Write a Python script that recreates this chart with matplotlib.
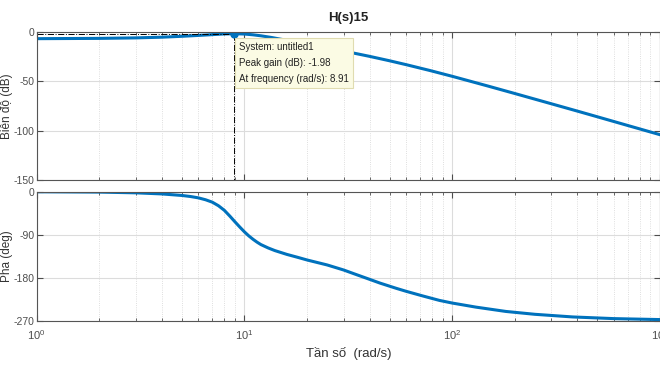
import numpy as np
import matplotlib
matplotlib.use('Agg')
import matplotlib.pyplot as plt
from matplotlib.ticker import LogLocator, NullFormatter

plt.rcParams['font.family'] = ['Liberation Sans', 'DejaVu Sans']
plt.rcParams['mathtext.default'] = 'regular'
plt.rcParams['axes.unicode_minus'] = False

# du lieu doc tu hinh
tan_so_mag = [1, 2, 3, 4, 5, 6, 7, 8, 8.91, 10, 11, 12, 13.5, 15, 17.5, 20, 23, 26, 30, 40,
              50, 60, 78, 100, 150, 200, 300, 400, 500, 700, 1000]
bien_do = [-7.0, -6.7, -6.2, -5.5, -4.6, -3.7, -2.9, -2.2, -1.98, -2.3, -3.1, -4.1, -5.8,
           -7.6, -10.2, -12.6, -15.0, -17.0, -19.5, -24.9, -29.4, -33.3, -39.2, -45.1,
           -55.2, -62.5, -72.9, -80.3, -86.1, -94.9, -104.2]

tan_so_pha = [1, 2, 3, 4, 5, 5.5, 6, 6.5, 7, 7.5, 8, 8.5, 9, 9.5, 10, 10.5, 11, 11.5, 12,
              13, 14, 16, 18, 20, 25, 30, 35, 40, 45, 53.8, 60, 72.3, 86.8, 100, 130, 181,
              250, 380, 600, 1000]
pha = [-0.3, -1, -2.5, -4.8, -8, -10.2, -13, -17, -22, -29.5, -39, -51, -63, -74, -84,
       -92.5, -99.5, -105.5, -110.5, -117.5, -123, -131, -137, -142.6, -153, -163.5, -174,
       -183, -191, -201.8, -208, -217.8, -227, -232.5, -241, -250, -256, -261.5, -265,
       -267]

peak_w = 8.91
peak_db = -1.98

mau = '#0072BD'
xam = '#4d4d4d'

fig = plt.figure(figsize=(6.6, 3.65), dpi=100)
ax1 = fig.add_axes([0.0556, 0.507, 0.9444, 0.406])
ax2 = fig.add_axes([0.0556, 0.1205, 0.9444, 0.3545])

for ax in (ax1, ax2):
    ax.set_xscale('log')
    ax.set_xlim(1, 1000)
    ax.xaxis.set_major_locator(LogLocator(base=10))
    ax.xaxis.set_minor_locator(LogLocator(base=10, subs=np.arange(2, 10)))
    ax.xaxis.set_minor_formatter(NullFormatter())
    ax.grid(which='major', color='#dcdcdc', linewidth=0.8, linestyle='-')
    ax.grid(which='minor', axis='x', color='#d4d4d4', linewidth=0.6, linestyle=':')
    ax.set_axisbelow(True)
    ax.tick_params(which='both', direction='in', top=True, right=True, colors=xam,
                   labelsize=7.5)
    ax.tick_params(axis='y', pad=1.5)
    ax.tick_params(axis='x', pad=5, labelsize=8)
    ax.tick_params(which='major', length=4)
    ax.tick_params(which='minor', length=2.5)
    for s in ax.spines.values():
        s.set_color('#555555')
        s.set_linewidth(0.8)

# bien do
ax1.plot(tan_so_mag, bien_do, color=mau, linewidth=2.2)
ax1.set_ylim(-150, 0)
ax1.set_yticks([0, -50, -100, -150])
ax1.set_xticklabels([])
ax1.set_ylabel('Biên độ (dB)', fontsize=8.5, color='#333333')
ax1.yaxis.set_label_coords(-0.0375, 0.5)
ax1.set_title('H(s)15', fontsize=9.5, fontweight='bold', color='#222222', pad=8)

ax1.plot([1, peak_w], [peak_db, peak_db], color='k', linestyle='-.', linewidth=0.7)
ax1.plot([peak_w, peak_w], [peak_db, -150], color='k', linestyle='-.', linewidth=0.7)
ax1.plot(peak_w, peak_db, 'o', color=mau, markersize=5)
ax1.text(9.45, -10.5, 'System: untitled1\nPeak gain (dB): -1.98\nAt frequency (rad/s): 8.91',
         fontsize=7, va='top', ha='left', color='#222222', linespacing=1.75,
         bbox=dict(boxstyle='square,pad=0.4', facecolor='#fbfbe4', edgecolor='#e0dcb0',
                   linewidth=0.8))

# pha
ax2.plot(tan_so_pha, pha, color=mau, linewidth=2.2)
ax2.set_ylim(-270, 0)
ax2.set_yticks([0, -90, -180, -270])
ax2.set_ylabel('Pha (deg)', fontsize=8.5, color='#333333')
ax2.yaxis.set_label_coords(-0.0375, 0.5)
ax2.set_xlabel('Tần số  (rad/s)', fontsize=9.5, color='#333333', labelpad=4)

fig.savefig('out.png', dpi=100)
